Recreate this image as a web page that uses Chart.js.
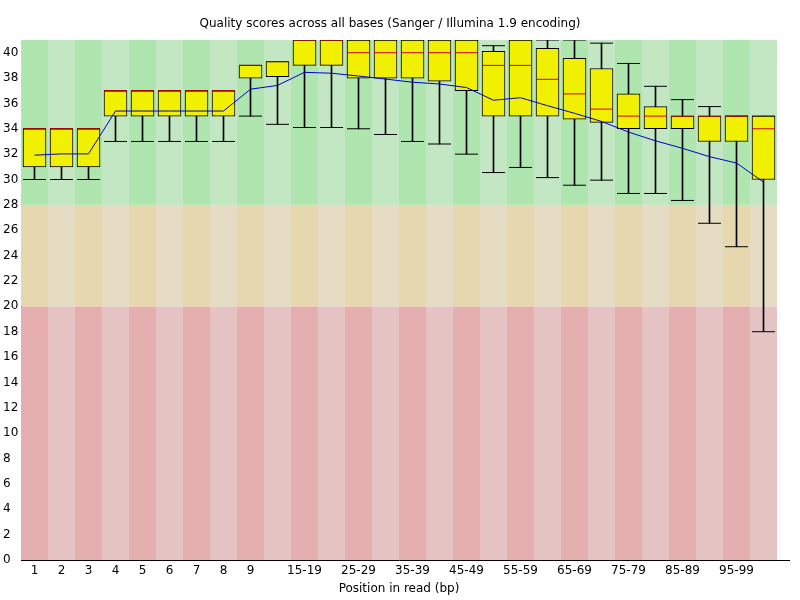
<!DOCTYPE html>
<html>
<head>
<meta charset="utf-8">
<script src="https://cdn.jsdelivr.net/npm/chart.js@4/dist/chart.umd.min.js"></script>
<style>
  html, body { margin: 0; padding: 0; background: #fff; }
  #wrap { width: 800px; height: 600px; }
</style>
</head>
<body>
<div id="wrap"><canvas id="qualChart" width="800" height="600"></canvas></div>
<script>
// Positions in read (one box per position / group)
const positions = ['1', '2', '3', '4', '5', '6', '7', '8', '9',
  '10-14', '15-19', '20-24', '25-29', '30-34', '35-39', '40-44', '45-49',
  '50-54', '55-59', '60-64', '65-69', '70-74', '75-79', '80-84', '85-89',
  '90-94', '95-99', '100-101'];

// Per-position quality stats
const lower10 = [30, 30, 30, 33, 33, 33, 33, 33, 35, 34.35, 34.1, 34.1, 34, 33.55, 33, 32.8, 32,
  30.55, 30.95, 30.15, 29.55, 29.95, 28.9, 28.9, 28.35, 26.55, 24.7, 18];
const lowerQ = [31, 31, 31, 35, 35, 35, 35, 35, 38, 38.1, 39, 39, 38, 38, 38, 37.75, 37,
  35, 35, 35, 34.75, 34.5, 34, 34, 34, 33, 33, 30];
const medians = [34, 34, 34, 37, 37, 37, 37, 37, 39, 39.3, 41, 41, 40, 40, 40, 40, 40,
  39, 39, 37.9, 36.75, 35.55, 35, 35, 35, 35, 35, 34];
const upperQ = [34, 34, 34, 37, 37, 37, 37, 37, 39, 39.3, 41, 41, 41, 41, 41, 41, 41,
  40.1, 41, 40.35, 39.55, 38.75, 36.75, 35.75, 35, 35, 35, 35];
const upper90 = [34, 34, 34, 37, 37, 37, 37, 37, 39, 39.3, 41, 41, 41, 41, 41, 41, 41,
  40.55, 41, 41, 41, 40.75, 39.15, 37.35, 36.3, 35.75, 35, 35];
const means = [31.92, 32.02, 32.02, 35.4, 35.4, 35.4, 35.4, 35.4, 37.12, 37.42, 38.45, 38.38, 38.16, 37.92, 37.67, 37.53, 37.25,
  36.25, 36.45, 35.82, 35.22, 34.58, 33.74, 33.05, 32.46, 31.8, 31.3, 29.8];

// y axis range / tick step and quality zones (bad < 20 < ok < 28 < good)
const yMin = 0;
const yMax = 41;
const yStep = 2;
const zoneLimits = [0, 20, 28, 41];
const zoneColors = [
  ['rgb(230,175,175)', 'rgb(230,195,195)'],
  ['rgb(230,215,175)', 'rgb(230,220,195)'],
  ['rgb(175,230,175)', 'rgb(195,230,195)']
];

// striped background for the three zones
const bandsPlugin = {
  id: 'bands',
  beforeDatasetsDraw(chart) {
    const { ctx, chartArea, scales: { x, y } } = chart;
    const step = (chartArea.right - chartArea.left) / positions.length;
    ctx.save();
    positions.forEach((p, i) => {
      const cx = x.getPixelForValue(i);
      for (let z = 0; z < zoneColors.length; z++) {
        const top = y.getPixelForValue(zoneLimits[z + 1]);
        const bot = y.getPixelForValue(zoneLimits[z]);
        ctx.fillStyle = zoneColors[z][i % 2];
        ctx.fillRect(Math.round(cx - step / 2), top, Math.round(step), bot - top);
      }
    });
    ctx.restore();
  },
  afterDraw(chart) {
    // x axis line runs a bit past the plot like in the original
    const { ctx, chartArea } = chart;
    ctx.save();
    ctx.strokeStyle = '#000';
    ctx.lineWidth = 1;
    ctx.beginPath();
    ctx.moveTo(chartArea.right, chartArea.bottom + 0.5);
    ctx.lineTo(chartArea.right + 13, chartArea.bottom + 0.5);
    ctx.stroke();
    ctx.restore();
  }
};

const ctx = document.getElementById('qualChart').getContext('2d');
new Chart(ctx, {
  type: 'bar',
  data: {
    labels: positions,
    datasets: [
      {
        type: 'line',
        label: 'Mean',
        data: means,
        borderColor: 'rgb(0,0,200)',
        borderWidth: 1,
        pointRadius: 0,
        tension: 0,
        order: 0
      },
      {
        type: 'line',
        label: 'Median',
        data: medians,
        showLine: false,
        pointStyle: 'line',
        pointRadius: 11.5,
        pointBorderColor: 'rgb(200,0,0)',
        pointBorderWidth: 1,
        order: 1
      },
      {
        label: 'IQR',
        data: lowerQ.map((q, i) => [q, upperQ[i]]),
        backgroundColor: 'rgb(240,240,0)',
        borderColor: '#000',
        borderWidth: 1,
        borderSkipped: false,
        barThickness: 23,
        grouped: false,
        order: 2
      },
      {
        type: 'line',
        label: 'Whisker caps',
        data: lower10,
        showLine: false,
        pointStyle: 'line',
        pointRadius: 11.5,
        pointBorderColor: '#000',
        pointBorderWidth: 1,
        order: 3
      },
      {
        type: 'line',
        label: 'Whisker caps top',
        data: upper90,
        showLine: false,
        pointStyle: 'line',
        pointRadius: 11.5,
        pointBorderColor: '#000',
        pointBorderWidth: 1,
        order: 3
      },
      {
        label: '10-90%',
        data: lower10.map((v, i) => [v, upper90[i]]),
        backgroundColor: '#000',
        borderWidth: 0,
        barThickness: 1,
        grouped: false,
        order: 4
      }
    ]
  },
  options: {
    responsive: false,
    animation: false,
    layout: { padding: { left: 3, right: 23, top: 0, bottom: 0 } },
    plugins: {
      legend: { display: false },
      tooltip: { enabled: false },
      title: {
        display: true,
        text: 'Quality scores across all bases (Sanger / Illumina 1.9 encoding)',
        color: '#000',
        font: { family: 'DejaVu Sans', size: 12, weight: 'normal' },
        padding: { top: 17, bottom: 8.6 }
      }
    },
    scales: {
      x: {
        grid: { display: false, drawTicks: false },
        border: { display: true, color: '#000', width: 1 },
        ticks: {
          color: '#000',
          font: { family: 'DejaVu Sans', size: 12 },
          padding: 4,
          autoSkip: false,
          maxRotation: 0,
          callback: (v, i) => (i < 9 || i % 2 === 0) ? positions[i] : ''
        },
        title: {
          display: true,
          text: 'Position in read (bp)',
          color: '#000',
          font: { family: 'DejaVu Sans', size: 12 },
          padding: { top: 0, bottom: 4 }
        },
        afterFit: (s) => { s.height = 40; }
      },
      y: {
        min: yMin,
        max: yMax,
        grid: { display: false, drawTicks: false },
        border: { display: true, color: '#000', width: 1 },
        ticks: {
          stepSize: yStep,
          includeBounds: false,
          color: '#000',
          font: { family: 'DejaVu Sans', size: 12 },
          crossAlign: 'far',
          padding: 4
        },
        afterFit: (s) => { s.width = 18; }
      }
    }
  },
  plugins: [bandsPlugin]
});
</script>
</body>
</html>
